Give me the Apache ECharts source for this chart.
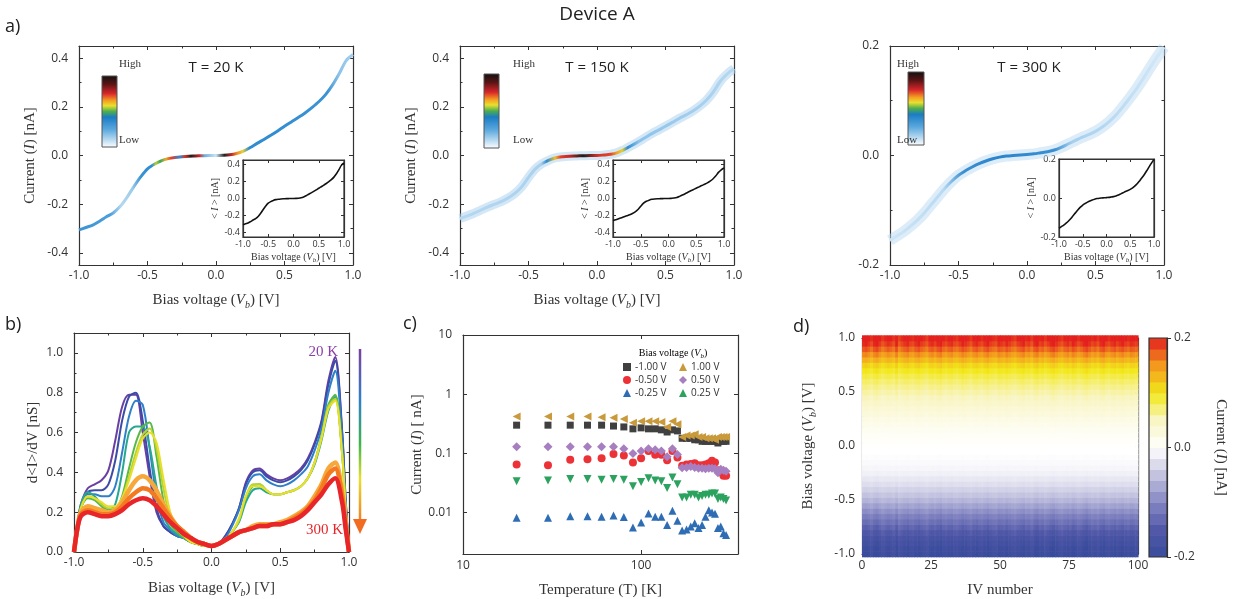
<!DOCTYPE html>
<html>
<head>
<meta charset="utf-8">
<title>Device A</title>
<script src="https://cdn.jsdelivr.net/npm/echarts@6/dist/echarts.min.js"></script>
<style>html,body{margin:0;padding:0;background:#fff}#main{width:1233px;height:599px}</style>
</head>
<body>
<div id="main"></div>
<script>
// ---- data ----
// bias grid for the IV curves (V)
var vGrid = [-1.00,-0.95,-0.90,-0.85,-0.80,-0.75,-0.70,-0.65,-0.60,-0.55,-0.50,-0.45,-0.40,-0.35,-0.30,-0.25,-0.20,-0.15,-0.10,-0.05,
  0.00,0.05,0.10,0.15,0.20,0.25,0.30,0.35,0.40,0.45,0.50,0.55,0.60,0.65,0.70,0.75,0.80,0.85,0.90,0.95,1.00];
// mean current (nA) at 20 K, 150 K, 300 K
var iv20 = [-0.306,-0.296,-0.286,-0.270,-0.252,-0.236,-0.210,-0.172,-0.128,-0.088,-0.055,-0.036,-0.022,-0.013,-0.008,-0.005,-0.003,-0.002,-0.001,0.000,
  0.000,0.001,0.003,0.008,0.018,0.033,0.050,0.066,0.083,0.101,0.120,0.138,0.156,0.175,0.197,0.221,0.250,0.289,0.337,0.390,0.415];
var iv150 = [-0.259,-0.249,-0.238,-0.225,-0.212,-0.201,-0.190,-0.175,-0.156,-0.129,-0.090,-0.055,-0.033,-0.019,-0.009,-0.005,-0.003,-0.002,-0.001,0.000,
  0.000,0.002,0.005,0.012,0.025,0.040,0.056,0.073,0.090,0.105,0.120,0.136,0.152,0.167,0.183,0.203,0.228,0.262,0.305,0.335,0.357];
var iv300 = [-0.155,-0.147,-0.139,-0.129,-0.118,-0.105,-0.090,-0.075,-0.060,-0.047,-0.036,-0.028,-0.021,-0.015,-0.010,-0.006,-0.003,-0.001,0.000,0.001,
  0.002,0.003,0.005,0.007,0.010,0.015,0.021,0.027,0.033,0.038,0.044,0.052,0.062,0.074,0.089,0.105,0.122,0.141,0.161,0.180,0.198];

// b) differential conductance
var bV = [-1.0,-0.975,-0.95,-0.9,-0.85,-0.8,-0.75,-0.7,-0.65,-0.6,-0.55,-0.5,-0.45,-0.4,-0.35,-0.3,-0.25,-0.2,-0.15,-0.1,-0.05,0,
  0.05,0.1,0.15,0.2,0.25,0.3,0.35,0.4,0.45,0.5,0.55,0.6,0.65,0.7,0.75,0.8,0.85,0.9,0.95,0.975,1.0];
var bTemps = ['20 K','50 K','80 K','130 K','150 K','165 K','180 K','220 K','260 K','300 K'];
var bColors = ['#6a3fa2','#3d4ba8','#2f80c8','#26a890','#58b848','#b9d432','#e9df2a','#f6a83a','#f47a22','#e8262a'];
var dIdV = [
  [0.00,0.14,0.24,0.32,0.34,0.36,0.41,0.56,0.73,0.79,0.79,0.60,0.38,0.20,0.13,0.10,0.08,0.07,0.05,0.04,0.03,0.03,0.04,0.08,0.14,0.22,0.35,0.41,0.42,0.39,0.37,0.36,0.37,0.39,0.42,0.47,0.55,0.66,0.86,0.98,0.61,0.27,0.00],
  [0.00,0.13,0.23,0.30,0.31,0.31,0.34,0.46,0.66,0.78,0.80,0.66,0.42,0.22,0.13,0.10,0.08,0.07,0.05,0.04,0.03,0.03,0.04,0.08,0.14,0.22,0.34,0.40,0.41,0.38,0.36,0.35,0.36,0.38,0.41,0.46,0.54,0.65,0.84,0.96,0.60,0.27,0.00],
  [0.00,0.13,0.22,0.29,0.29,0.28,0.28,0.33,0.50,0.68,0.76,0.74,0.52,0.28,0.15,0.11,0.08,0.07,0.05,0.04,0.03,0.03,0.04,0.07,0.13,0.21,0.32,0.38,0.39,0.36,0.34,0.33,0.34,0.36,0.39,0.43,0.51,0.62,0.80,0.91,0.57,0.25,0.00],
  [0.00,0.13,0.24,0.30,0.28,0.24,0.21,0.24,0.40,0.60,0.63,0.63,0.53,0.33,0.18,0.12,0.09,0.07,0.05,0.04,0.03,0.03,0.04,0.06,0.10,0.15,0.25,0.31,0.32,0.30,0.29,0.29,0.30,0.31,0.33,0.37,0.44,0.56,0.71,0.78,0.50,0.22,0.00],
  [0.00,0.12,0.22,0.27,0.26,0.23,0.20,0.21,0.28,0.42,0.55,0.63,0.65,0.48,0.26,0.14,0.10,0.07,0.05,0.04,0.03,0.03,0.04,0.06,0.10,0.16,0.27,0.33,0.34,0.31,0.29,0.29,0.30,0.31,0.33,0.37,0.45,0.58,0.74,0.79,0.50,0.22,0.00],
  [0.00,0.12,0.22,0.28,0.27,0.24,0.22,0.22,0.27,0.38,0.50,0.59,0.62,0.52,0.32,0.17,0.11,0.08,0.05,0.04,0.03,0.03,0.04,0.06,0.10,0.16,0.28,0.34,0.34,0.31,0.29,0.29,0.30,0.31,0.33,0.37,0.45,0.58,0.73,0.77,0.49,0.22,0.00],
  [0.00,0.12,0.22,0.28,0.27,0.25,0.23,0.23,0.27,0.36,0.47,0.57,0.60,0.55,0.37,0.20,0.12,0.08,0.05,0.04,0.03,0.03,0.04,0.06,0.10,0.17,0.28,0.33,0.33,0.31,0.29,0.29,0.30,0.31,0.33,0.37,0.45,0.57,0.72,0.76,0.49,0.22,0.00],
  [0.00,0.12,0.20,0.23,0.22,0.21,0.20,0.21,0.25,0.31,0.36,0.38,0.36,0.31,0.24,0.18,0.13,0.10,0.07,0.05,0.04,0.03,0.04,0.06,0.08,0.10,0.11,0.13,0.14,0.14,0.14,0.15,0.16,0.18,0.20,0.23,0.28,0.34,0.42,0.45,0.30,0.15,0.00],
  [0.00,0.12,0.19,0.21,0.20,0.19,0.19,0.20,0.23,0.27,0.30,0.32,0.31,0.27,0.22,0.17,0.13,0.10,0.07,0.05,0.04,0.03,0.04,0.06,0.08,0.10,0.11,0.12,0.13,0.13,0.14,0.14,0.15,0.17,0.19,0.22,0.26,0.32,0.39,0.42,0.28,0.14,0.00],
  [0.00,0.12,0.18,0.20,0.19,0.18,0.18,0.19,0.21,0.24,0.26,0.27,0.26,0.23,0.19,0.15,0.12,0.09,0.07,0.05,0.04,0.03,0.04,0.06,0.08,0.10,0.11,0.12,0.13,0.13,0.14,0.14,0.15,0.16,0.18,0.21,0.25,0.29,0.34,0.37,0.25,0.12,0.00]
];

// c) current vs temperature
var cTemp = [20,30,40,50,60,70,80,90,100,110,120,130,140,150,160,170,180,190,200,210,220,230,240,250,260,270,280,290,300];
var cNeg100 = [0.30,0.30,0.30,0.30,0.30,0.29,0.28,0.26,0.27,0.26,0.26,0.25,0.23,0.25,0.24,0.18,0.18,0.18,0.17,0.17,0.16,0.16,0.16,0.16,0.16,0.15,0.16,0.16,0.16];
var cNeg050 = [0.065,0.063,0.078,0.080,0.083,0.098,0.092,0.070,0.083,0.110,0.095,0.095,0.077,0.110,0.085,0.062,0.065,0.066,0.068,0.063,0.063,0.065,0.068,0.075,0.070,0.052,0.048,0.042,0.042];
var cNeg025 = [0.0082,0.0082,0.0087,0.0087,0.0085,0.0089,0.0084,0.0056,0.0068,0.0097,0.0085,0.0085,0.0062,0.0108,0.0073,0.0050,0.0052,0.0058,0.0066,0.0055,0.0062,0.0085,0.0110,0.0100,0.0096,0.0055,0.0058,0.0045,0.0042];
var cPos100 = [0.42,0.42,0.42,0.42,0.41,0.40,0.38,0.33,0.35,0.35,0.35,0.34,0.28,0.35,0.31,0.19,0.20,0.20,0.21,0.19,0.19,0.18,0.18,0.18,0.17,0.19,0.19,0.19,0.19];
var cPos050 = [0.13,0.13,0.13,0.13,0.13,0.13,0.12,0.10,0.11,0.12,0.115,0.11,0.088,0.12,0.096,0.057,0.058,0.060,0.058,0.056,0.056,0.055,0.056,0.056,0.055,0.047,0.054,0.052,0.050];
var cPos025 = [0.034,0.035,0.037,0.037,0.036,0.037,0.036,0.028,0.033,0.038,0.035,0.034,0.026,0.039,0.030,0.018,0.018,0.020,0.020,0.018,0.019,0.020,0.020,0.021,0.021,0.017,0.018,0.017,0.016];

// d) current map: mean profile along the bias grid, and a gain per IV number (1..100)
var dProfile = [-0.190,-0.185,-0.175,-0.165,-0.150,-0.135,-0.120,-0.105,-0.090,-0.075,-0.060,-0.048,-0.037,-0.027,-0.019,-0.012,-0.007,-0.004,-0.002,0.000,
  0.002,0.004,0.007,0.011,0.016,0.022,0.029,0.036,0.043,0.050,0.057,0.065,0.074,0.085,0.097,0.110,0.130,0.150,0.170,0.188,0.200];
var ivGain = [1.04,1.06,1.02,0.97,1.05,1.08,1.01,0.95,0.99,1.03,1.00,0.96,1.07,0.93,0.98,1.02,1.05,0.99,0.97,1.03,
  1.06,1.01,0.98,0.94,1.02,1.04,0.99,1.05,1.08,1.00,0.97,1.02,1.04,0.98,0.96,1.01,1.06,1.03,0.99,0.95,
  1.02,1.05,1.00,0.97,1.03,1.07,1.01,0.98,0.96,1.04,1.02,0.99,1.05,1.01,0.97,0.94,1.00,1.03,1.06,0.98,
  1.01,0.95,1.04,1.07,0.99,1.02,0.96,1.00,1.05,1.08,1.03,0.98,0.95,1.01,1.04,0.99,1.06,1.02,0.97,1.00,
  1.05,1.09,1.03,0.98,1.01,0.96,1.04,1.07,1.00,0.97,1.02,1.05,0.99,1.03,1.06,1.01,0.98,1.04,1.02,1.00];
var cbLevels = [-0.19,-0.17,-0.15,-0.13,-0.11,-0.09,-0.07,-0.05,-0.03,-0.01,0.01,0.03,0.05,0.07,0.09,0.11,0.13,0.15,0.17,0.19];

// ---- helpers ----
var SANS = '"Open Sans","Noto Sans",sans-serif';
var SERIF = '"Liberation Serif","DejaVu Serif",serif';
var FRAME = '#333';
var LG = echarts.graphic.LinearGradient;

function rich(sz) {
  return {
    n: {fontFamily: SERIF, fontSize: sz, color: '#333'},
    i: {fontFamily: SERIF, fontSize: sz, color: '#333', fontStyle: 'italic'},
    s: {fontFamily: SERIF, fontSize: Math.round(sz * 0.65), color: '#333', fontStyle: 'italic', verticalAlign: 'bottom',
        padding: [0, 0, -Math.round(sz * 0.15), 0]}
  };
}
function zip(xs, ys) { return xs.map(function (x, i) { return [x, ys[i]]; }); }
function fix1(v) { return v.toFixed(1); }
function logFmt(v) {
  var e = Math.round(Math.log10(v));
  if (Math.abs(Math.log10(v) - e) > 1e-6) return '';
  return e >= 0 ? String(Math.pow(10, e)) : Math.pow(10, e).toFixed(-e);
}
function grad(stops, vertical) {
  return new LG(0, 0, vertical ? 0 : 1, vertical ? 1 : 0, stops.map(function (s) { return {offset: s[0], color: s[1]}; }));
}

var grids = [], xAxes = [], yAxes = [], series = [], graphics = [];

function makeAxis(o, gi, pos, primary) {
  return {
    gridIndex: gi, position: pos, type: o.type || 'value',
    min: o.min, max: o.max, interval: o.interval, splitNumber: o.splitNumber,
    name: primary ? (o.name || '') : '', nameLocation: 'middle', nameGap: o.nameGap || 30, nameRotate: o.nameRotate,
    nameTextStyle: {rich: rich(o.nameSize || 15)},
    axisLine: {show: true, onZero: false, lineStyle: {color: FRAME, width: 1.2}},
    axisTick: {show: o.ticks !== false, inside: !o.tickOut, length: o.tickLen || 4, lineStyle: {color: FRAME, width: 1}},
    minorTick: {show: !!o.minor, splitNumber: o.minor || 2, length: 2.5, lineStyle: {color: FRAME, width: 1}},
    splitLine: {show: false},
    axisLabel: {show: primary && o.labels !== false, margin: o.margin || 5, fontSize: o.labelSize || 12, color: '#333',
      fontFamily: SANS, formatter: o.fmt, showMinLabel: o.showMin, showMaxLabel: o.showMax},
    axisPointer: {show: false}
  };
}
function addPanel(rect, xo, yo, extra) {
  var gi = grids.length;
  grids.push(Object.assign({left: rect[0], top: rect[1], width: rect[2], height: rect[3], containLabel: false}, extra || {}));
  var xi = xAxes.length, yi = yAxes.length;
  xAxes.push(makeAxis(xo, gi, xo.pos || 'bottom', true));
  yAxes.push(makeAxis(yo, gi, yo.pos || 'left', true));
  if (!xo.noMirror) xAxes.push(makeAxis(xo, gi, 'top', false));
  if (!yo.noMirror) yAxes.push(makeAxis(yo, gi, 'right', false));
  return {xi: xi, yi: yi};
}
function text(x, y, str, font, fill, align, extra) {
  graphics.push(Object.assign({type: 'text', x: x, y: y, z: 10,
    style: {text: str, font: font, fill: fill || '#333', align: align || 'left', verticalAlign: 'middle'}}, extra || {}));
}

var VB = '{n|Bias voltage (}{i|V}{s|b}{n|) [V]}';
var CUR = '{n|Current (}{i|I}{n|) [nA]}';

// ---- a) IV density panels ----
var aPanels = [
  {rect: [79, 46, 274, 219], inset: [243, 160, 101, 77], lim: 0.45, data: iv20, t: 'T = 20 K', tx: 216,
   cb: [102, 76, 15, 71], hx: 119, band: null,
   core: [[0,'#3b93d4'],[0.12,'#4a9edb'],[0.16,'#b5d8f1'],[0.2,'#9ccbeb'],[0.23,'#3b93d4'],[0.27,'#2d8bd0'],[0.285,'#b8cf3a'],[0.3,'#3aa55a'],
     [0.32,'#e0b02a'],[0.34,'#e43b2a'],[0.37,'#2d8bd0'],[0.39,'#d93025'],[0.41,'#1c1c1c'],[0.44,'#c62a24'],[0.46,'#6fb0e0'],[0.5,'#cfe5f5'],
     [0.53,'#222222'],[0.555,'#c0282a'],[0.575,'#f08a2a'],[0.595,'#e8d030'],[0.62,'#2d8bd0'],[0.9,'#3b93d4'],[0.94,'#8cc2ea'],[1,'#a9d2ef']]},
  {rect: [460, 46, 274, 219], inset: [613, 160, 111, 77], lim: 0.45, data: iv150, t: 'T = 150 K', tx: 597,
   cb: [484, 74, 15, 74], hx: 513, band: ['rgba(175,212,239,0.55)', 9],
   core: [[0,'#b5d8f1'],[0.3,'#a9d1ee'],[0.32,'#2d8bd0'],[0.35,'#e8c030'],[0.37,'#e43b2a'],[0.4,'#c62a24'],[0.45,'#1c1c1c'],[0.5,'#d03025'],
     [0.55,'#e04a2a'],[0.57,'#f0a02a'],[0.59,'#e8d030'],[0.61,'#2d8bd0'],[0.65,'#8cc2ea'],[1,'#b5d8f1']]},
  {rect: [890, 46, 274, 219], inset: [1059, 159, 95, 78], lim: 0.2, data: iv300, t: 'T = 300 K', tx: 1029,
   cb: [908, 72, 16, 73], hx: 897, band: ['rgba(185,218,242,0.5)', 11],
   core: [[0,'#cfe5f5'],[0.2,'#b9daf2'],[0.27,'#3a90d2'],[0.4,'#2a84cc'],[0.6,'#3a90d2'],[0.66,'#a5cfee'],[1,'#d4e9f7']]}
];
var cbStops = [[0,'#111111'],[0.12,'#5a1414'],[0.25,'#d8262a'],[0.35,'#f5a020'],[0.42,'#e8e030'],[0.5,'#4cae4c'],[0.58,'#1a7cc4'],[0.75,'#5aa8de'],[0.9,'#bcdcf2'],[1,'#ffffff']];

aPanels.forEach(function (p, k) {
  var big = p.lim > 0.3;
  var ax = addPanel(p.rect,
    {min: -1, max: 1, interval: 0.5, minor: 2, fmt: fix1, name: k < 2 ? VB : '', nameGap: 28},
    {min: -p.lim, max: p.lim, interval: big ? undefined : 0.2, splitNumber: 4, minor: 2, fmt: fix1,
     showMin: !big, showMax: !big, name: k < 2 ? CUR : '', nameGap: 41, margin: 11});
  if (p.band) {
    series.push({type: 'line', xAxisIndex: ax.xi, yAxisIndex: ax.yi, data: zip(vGrid, p.data), showSymbol: false, smooth: 0.3,
      lineStyle: {width: p.band[1], color: p.band[0]}, silent: true});
  }
  series.push({type: 'line', xAxisIndex: ax.xi, yAxisIndex: ax.yi, data: zip(vGrid, p.data), showSymbol: false, smooth: 0.3,
    lineStyle: {width: 3, color: grad(p.core)}, silent: true});
  // inset with the averaged curve
  var ins = addPanel(p.inset,
    {min: -1, max: 1, interval: 0.5, fmt: fix1, labelSize: 9, margin: 3, tickLen: 3, name: VB, nameSize: 10, nameGap: 15},
    {min: -p.lim, max: p.lim, interval: big ? undefined : 0.2, splitNumber: 4, fmt: fix1, labelSize: 9, margin: 3, tickLen: 3,
     showMin: !big, showMax: !big, name: '{n|< }{i|I}{n| > [nA]}', nameSize: 10, nameGap: 17},
    {show: true, backgroundColor: '#fff', borderColor: FRAME, borderWidth: 1.2});
  series.push({type: 'line', xAxisIndex: ins.xi, yAxisIndex: ins.yi, data: zip(vGrid, p.data), showSymbol: false, smooth: 0.3,
    lineStyle: {width: 1.6, color: '#111'}, silent: true, z: 5});
  // density colour scale
  graphics.push({type: 'rect', z: 10, shape: {x: p.cb[0], y: p.cb[1], width: p.cb[2], height: p.cb[3]},
    style: {fill: grad(cbStops, true), stroke: '#555', lineWidth: 1}});
  text(p.hx, 64, 'High', '11px ' + SERIF, '#333');
  text(p.hx, 140, 'Low', '11px ' + SERIF, '#333');
  text(p.tx, 68, p.t, '15px ' + SANS, '#222', 'center');
});

// ---- b) dI/dV ----
var bAx = addPanel([74, 333, 275, 221],
  {min: -1, max: 1, interval: 0.5, minor: 2, fmt: fix1, name: VB, nameGap: 29},
  {min: 0, max: 1.1, interval: 0.2, minor: 2, fmt: fix1, showMax: false, margin: 11, name: '{n|d<I>/dV [nS]}', nameGap: 33});
dIdV.forEach(function (row, k) {
  series.push({type: 'line', name: bTemps[k], xAxisIndex: bAx.xi, yAxisIndex: bAx.yi, data: zip(bV, row), showSymbol: false,
    smooth: 0.3, lineStyle: {width: k >= 7 ? 4.5 : 2, color: bColors[k]}, silent: true, z: 2 + k});
});
text(338, 352, '20 K', '15px ' + SERIF, '#8a3fa6', 'right');
text(343, 530, '300 K', '15px ' + SERIF, '#e8262a', 'right');
graphics.push({type: 'line', z: 10, shape: {x1: 360, y1: 349, x2: 360, y2: 522},
  style: {lineWidth: 2.5, stroke: new LG(0, 349, 0, 522, [{offset: 0, color: '#7b3fa0'}, {offset: 0.3, color: '#2f80c8'},
    {offset: 0.55, color: '#3db54a'}, {offset: 0.75, color: '#e8e02a'}, {offset: 1, color: '#f47a22'}], true)}});
graphics.push({type: 'polygon', z: 10, shape: {points: [[353, 519], [367, 519], [360, 534]]}, style: {fill: '#f26b22'}});

// ---- c) current vs temperature ----
var cAx = addPanel([463, 335, 275, 219],
  {type: 'log', min: 10, max: 350, fmt: logFmt, showMax: false, name: '{n|Temperature (T) [K]}', nameGap: 29, margin: 6},
  {type: 'log', min: 0.002, max: 10, fmt: logFmt, showMin: false, margin: 11, name: '{n|Current (}{i|I}{n|) [ nA]}', nameGap: 33});
var cSeries = [
  {name: '-1.00 V', d: cNeg100, sym: 'rect', rot: 0, col: '#404040', size: 7},
  {name: '-0.50 V', d: cNeg050, sym: 'circle', rot: 0, col: '#ec3237', size: 8},
  {name: '-0.25 V', d: cNeg025, sym: 'triangle', rot: 0, col: '#2e6db4', size: 8},
  {name: '1.00 V', d: cPos100, sym: 'triangle', rot: 90, col: '#c99a3c', size: 8},
  {name: '0.50 V', d: cPos050, sym: 'diamond', rot: 0, col: '#a77fc1', size: 9},
  {name: '0.25 V', d: cPos025, sym: 'triangle', rot: 180, col: '#2ca25f', size: 8}
];
cSeries.forEach(function (s) {
  series.push({type: 'scatter', name: s.name, xAxisIndex: cAx.xi, yAxisIndex: cAx.yi, data: zip(cTemp, s.d),
    symbol: s.sym, symbolRotate: s.rot, symbolSize: s.size, itemStyle: {color: s.col, opacity: 1}, silent: true});
});
graphics.push({type: 'text', x: 673, y: 353, z: 10, style: {text: '{n|Bias voltage (}{i|V}{s|b}{n|)}', rich: rich(10),
  align: 'center', verticalAlign: 'middle'}});

// ---- d) current map ----
var dAx = addPanel([862, 338, 276, 219],
  {min: 0, max: 100, interval: 25, minor: 2, name: '{n|IV number}', nameGap: 29, margin: 6},
  {min: -1, max: 1, interval: 0.5, minor: 2, fmt: fix1, margin: 7, name: VB, nameGap: 46});
var heat = [];
ivGain.forEach(function (g, n) {
  dProfile.forEach(function (I, j) {
    heat.push([n + 0.5, vGrid[j], Math.max(-0.2, Math.min(0.2, I * g))]);
  });
});
function cells(dx, dy) {
  return function (params, api) {
    var a = api.coord([api.value(0) - dx / 2, api.value(1) + dy / 2]);
    var b = api.coord([api.value(0) + dx / 2, api.value(1) - dy / 2]);
    return {type: 'rect', shape: {x: a[0], y: a[1], width: b[0] - a[0] + 0.6, height: b[1] - a[1] + 0.6},
      style: {fill: api.visual('color')}};
  };
}
var heatIdx = series.length;
series.push({type: 'custom', xAxisIndex: dAx.xi, yAxisIndex: dAx.yi, data: heat, renderItem: cells(1, 0.05), clip: true, silent: true, z: 1});
// colour bar of the map
var cbAx = addPanel([1149, 338, 18, 219],
  {min: 0, max: 1, ticks: false, labels: false, noMirror: true},
  {min: -0.2, max: 0.2, interval: 0.2, fmt: fix1, pos: 'right', tickOut: true, margin: 7, noMirror: true,
   name: CUR, nameRotate: -90, nameGap: 46});
xAxes[cbAx.xi].show = false;
var cbIdx = series.length;
series.push({type: 'custom', xAxisIndex: cbAx.xi, yAxisIndex: cbAx.yi, data: cbLevels.map(function (l) { return [0.5, l, l]; }),
  renderItem: cells(1, 0.02), clip: true, silent: true, z: 1});
graphics.push({type: 'rect', z: 10, shape: {x: 1149, y: 338, width: 18, height: 219}, style: {fill: 'none', stroke: FRAME, lineWidth: 1.2}});

// panel letters and title
text(597, 15, 'Device A', '19px ' + SANS, '#222', 'center');
text(5, 27, 'a)', '18px ' + SANS, '#222');
text(5, 325, 'b)', '18px ' + SANS, '#222');
text(403, 324, 'c)', '18px ' + SANS, '#222');
text(793, 327, 'd)', '18px ' + SANS, '#222');

var myChart = echarts.init(document.getElementById('main'), null, {renderer: 'canvas'});
myChart.setOption({
  animation: false,
  backgroundColor: '#fff',
  grid: grids,
  xAxis: xAxes,
  yAxis: yAxes,
  visualMap: [{
    type: 'continuous', show: false, min: -0.2, max: 0.2, dimension: 2, seriesIndex: [heatIdx, cbIdx],
    inRange: {color: ['#394b9c', '#5158a8', '#8486c2', '#c3c3e0', '#ffffff', '#f9f5c4', '#f2e81a', '#f39a1e', '#e3201e']}
  }],
  legend: [
    {data: ['-1.00 V', '-0.50 V', '-0.25 V'], orient: 'vertical', left: 623, top: 362, itemWidth: 8, itemHeight: 8, itemGap: 3,
     padding: 0, textStyle: {fontSize: 10, fontFamily: SANS, color: '#333', padding: [0, 0, 0, -1]}, selectedMode: false},
    {data: ['1.00 V', '0.50 V', '0.25 V'], orient: 'vertical', left: 679, top: 362, itemWidth: 8, itemHeight: 8, itemGap: 3,
     padding: 0, textStyle: {fontSize: 10, fontFamily: SANS, color: '#333', padding: [0, 0, 0, -1]}, selectedMode: false}
  ],
  graphic: graphics,
  series: series
});
</script>
</body>
</html>
